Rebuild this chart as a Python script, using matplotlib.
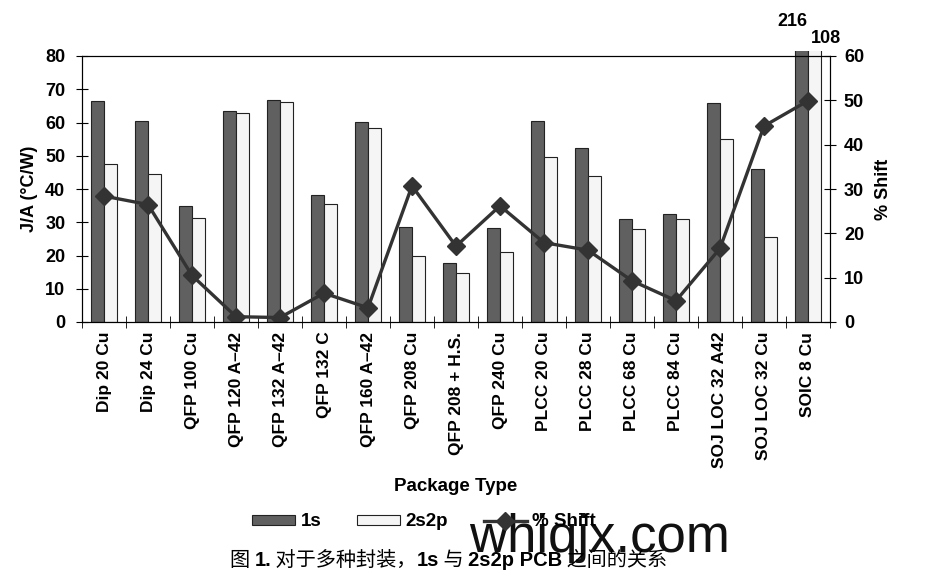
import numpy as np
import matplotlib
matplotlib.use("Agg")
import matplotlib.pyplot as plt
from matplotlib.patches import Patch
from matplotlib.lines import Line2D
from matplotlib.transforms import Bbox, TransformedBbox

packages = ["Dip 20 Cu", "Dip 24 Cu", "QFP 100 Cu", "QFP 120 A–42", "QFP 132 A–42",
            "QFP 132 C", "QFP 160 A–42", "QFP 208 Cu", "QFP 208 + H.S.", "QFP 240 Cu",
            "PLCC 20 Cu", "PLCC 28 Cu", "PLCC 68 Cu", "PLCC 84 Cu", "SOJ LOC 32 A42",
            "SOJ LOC 32 Cu", "SOIC 8 Cu"]
ja_1s = [66.5, 60.5, 34.8, 63.6, 66.8, 38.1, 60.2, 28.5, 17.8, 28.3,
         60.5, 52.4, 30.9, 32.5, 65.9, 46.1, 216]
ja_2s2p = [47.6, 44.5, 31.2, 62.9, 66.2, 35.6, 58.2, 19.7, 14.7, 21.1,
           49.7, 43.9, 28.1, 31.1, 54.9, 25.7, 108]
shift = [28.4, 26.5, 10.5, 1.2, 1.0, 6.5, 3.2, 30.7, 17.1, 26.2,
         17.9, 16.2, 9.3, 4.8, 16.6, 44.2, 49.9]

plt.rcParams['font.family'] = ['Liberation Sans', 'DejaVu Sans']
plt.rcParams['font.weight'] = 'bold'

dark = '#606060'
light = '#f5f5f5'
edge = '#222222'
linec = '#333333'

fig = plt.figure(figsize=(9.34, 5.81), dpi=100)
ax = fig.add_axes([82/934, 1-322/581, (830-82)/934, (322-56)/581])
x = np.arange(len(packages))
w = 0.3

# Excel lets the off-scale bars poke a little above the plot
clip = TransformedBbox(Bbox([[0, 0], [1, 1.017]]), ax.transAxes)
b1 = ax.bar(x - w/2, ja_1s, w, color=dark, edgecolor=edge, linewidth=0.8)
b2 = ax.bar(x + w/2, ja_2s2p, w, color=light, edgecolor=edge, linewidth=0.8)
for p in list(b1) + list(b2):
    p.set_clip_path(None)
    p.set_clip_box(clip)

ax.set_xlim(-0.5, len(packages) - 0.5)
ax.set_ylim(0, 80)
ax.set_yticks(range(0, 81, 10))
ax.set_xticks(x)
ax.set_xticklabels(packages, rotation=90, fontsize=12.5, fontweight='bold')
ax.set_xticks(np.arange(-0.5, len(packages), 1), minor=True)
ax.tick_params(axis='x', which='major', length=0, pad=7)
ax.tick_params(axis='x', which='minor', direction='inout', length=8)
ax.tick_params(axis='y', direction='inout', length=8, labelsize=13, pad=8)
ax.set_ylabel('J/A (°C/W)', fontsize=13, fontweight='bold', labelpad=5)
ax.set_xlabel('Package Type', fontsize=13.5, fontweight='bold', labelpad=7)

ax2 = ax.twinx()
ax2.plot(x, shift, color=linec, linewidth=2.4, marker='D', markersize=9,
         markerfacecolor=linec, markeredgecolor=linec)
ax2.set_ylim(0, 60)
ax2.set_yticks(range(0, 61, 10))
ax2.tick_params(axis='y', direction='inout', length=8, labelsize=13, pad=6)
ax2.set_ylabel('% Shift', fontsize=13, fontweight='bold', labelpad=8)

ax.text(x[-1] - 0.36, 90.5, str(ja_1s[-1]), ha='center', va='center', fontsize=13,
        fontweight='bold', clip_on=False)
ax.text(x[-1] + 0.41, 85.4, str(ja_2s2p[-1]), ha='center', va='center', fontsize=13,
        fontweight='bold', clip_on=False)

handles = [Patch(facecolor=dark, edgecolor=edge, linewidth=0.8),
           Patch(facecolor=light, edgecolor=edge, linewidth=0.8),
           Line2D([], [], color=linec, linewidth=2.4, marker='D', markersize=9)]
fig.legend(handles, ['1s', '2s2p', '% Shift'], loc='center', ncol=3,
           bbox_to_anchor=(424/934, 1-522/581), frameon=False, fontsize=13.5,
           handlelength=2.3, handleheight=0.5, columnspacing=1.9, handletextpad=0.3)

# watermark
fig.text(600/934, 1-538/581, 'whiqjx.com', ha='center', va='center', fontsize=38,
         fontweight='normal', color='#111111')

# caption, mixed weights, pieces laid out left to right
cjk = ['Noto Sans CJK SC', 'DejaVu Sans']
lat = ['Liberation Sans', 'DejaVu Sans']
parts = [('图 ', cjk, 'normal'), ('1.', lat, 'bold'),
         (' 对于多种封装，', cjk, 'normal'), ('1s', lat, 'bold'),
         (' 与 ', cjk, 'normal'), ('2s2p PCB', lat, 'bold'),
         (' 之间的关系', cjk, 'normal')]
renderer = fig.canvas.get_renderer()
xpos = 230 / 934
for txt, fam, wt in parts:
    t = fig.text(xpos, 1 - 566/581, txt, family=fam, fontweight=wt, fontsize=14.5,
                 va='baseline', ha='left')
    bb = t.get_window_extent(renderer)
    xpos += bb.width / fig.bbox.width

fig.savefig('out.png', dpi=100)
